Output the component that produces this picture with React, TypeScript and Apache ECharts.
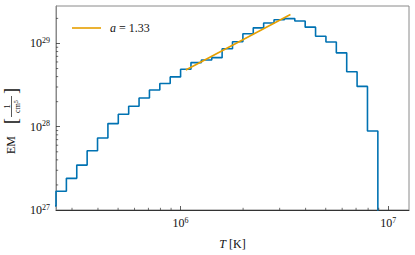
import React, { useEffect, useRef } from 'react';
import * as echarts from 'echarts';

// Bin edges (log10 T) of the EM histogram
const binEdgeExponents = [
  5.35, 5.40, 5.45, 5.50, 5.55, 5.60, 5.65, 5.70, 5.75, 5.80, 5.85,
  5.90, 5.95, 6.00, 6.05, 6.10, 6.15, 6.20, 6.25, 6.30, 6.35, 6.40,
  6.45, 6.50, 6.55, 6.60, 6.65, 6.70, 6.75, 6.80, 6.85, 6.90, 6.95,
];
// EM value starting at each edge (last entry closes the histogram)
const emValues = [
  1.12e27, 1.68e27, 2.40e27, 3.46e27, 5.14e27, 7.33e27, 1.09e28, 1.41e28,
  1.76e28, 2.21e28, 2.76e28, 3.31e28, 3.97e28, 4.90e28, 5.89e28, 6.33e28,
  6.76e28, 8.65e28, 1.05e29, 1.31e29, 1.54e29, 1.76e29, 1.93e29, 1.99e29,
  1.86e29, 1.57e29, 1.22e29, 1.04e29, 7.71e28, 4.58e28, 3.05e28, 8.89e27,
  1.0e26,
];
// Power-law fit a = 1.33
const fitT = [1.06e6, 3.38e6];
const fitEM = [4.81e28, 2.23e29];

const xMinorTicks = [3e5, 4e5, 5e5, 6e5, 7e5, 8e5, 9e5, 2e6, 3e6, 4e6, 5e6, 6e6, 7e6, 8e6, 9e6];
const yMinorTicks = [2e27, 3e27, 4e27, 5e27, 6e27, 7e27, 8e27, 9e27, 2e28, 3e28, 4e28, 5e28, 6e28, 7e28, 8e28, 9e28, 2e29];

const X_MIN = Math.pow(10, 5.4);
const X_MAX = Math.pow(10, 7.1);
const Y_MIN = 1e27;
const Y_MAX = Math.pow(10, 29.45);

const FONT = 'Liberation Serif';
const INK = '#111111';

const powLabel = (v: number) => `{b|10}{s|${Math.round(Math.log10(v))}}`;
const powRich = {
  b: { fontSize: 12, fontFamily: FONT, color: INK, lineHeight: 14 },
  s: { fontSize: 8, fontFamily: FONT, color: INK, verticalAlign: 'top', lineHeight: 9 },
};

export default function App() {
  const ref = useRef<HTMLDivElement>(null);
  useEffect(() => {
    if (!ref.current) return;
    const chart = echarts.init(ref.current, undefined, { renderer: 'svg' });
    const histData = binEdgeExponents.map((e, i) => [Math.pow(10, e), emValues[i]]);
    const fitData = fitT.map((t, i) => [t, fitEM[i]]);
    chart.setOption({
      animation: false,
      textStyle: { fontFamily: FONT, color: INK },
      grid: { left: 56, right: 6, top: 6, bottom: 43, show: true, borderColor: '#8a8a8a', borderWidth: 1 },
      legend: {
        data: [{ name: 'fit', icon: 'rect' }],
        left: 67,
        top: 17,
        itemWidth: 29,
        itemHeight: 1.6,
        formatter: () => '{sp|}{i|a} = 1.33',
        textStyle: {
          fontFamily: FONT, fontSize: 12, color: INK,
          rich: {
            sp: { width: 4 },
            i: { fontStyle: 'italic', fontFamily: FONT, fontSize: 12, color: INK },
          },
        },
      },
      xAxis: {
        type: 'log',
        min: X_MIN,
        max: X_MAX,
        logBase: 10,
        splitLine: { show: false },
        axisLine: { show: true, lineStyle: { color: '#333', width: 1 } },
        axisTick: { show: true, inside: true, length: 4, lineStyle: { color: '#333', width: 0.8 } },
        minorTick: { show: false },
        axisLabel: {
          showMinLabel: false, showMaxLabel: false, margin: 6,
          fontFamily: FONT,
          formatter: powLabel, rich: powRich,
        },
        name: '{i|T} [K]',
        nameLocation: 'middle',
        nameGap: 28,
        nameTextStyle: {
          fontFamily: FONT, fontSize: 12, color: INK,
          rich: { i: { fontStyle: 'italic', fontFamily: FONT, fontSize: 12, color: INK } },
        },
      },
      yAxis: {
        type: 'log',
        min: Y_MIN,
        max: Y_MAX,
        logBase: 10,
        splitLine: { show: false },
        axisLine: { show: true, lineStyle: { color: '#8a8a8a', width: 1 } },
        axisTick: { show: true, inside: true, length: 4, lineStyle: { color: '#333', width: 0.8 } },
        minorTick: { show: false },
        axisLabel: {
          showMinLabel: true, showMaxLabel: false, margin: 6,
          fontFamily: FONT,
          formatter: powLabel, rich: powRich,
        },
      },
      graphic: [
        {
          type: 'group',
          x: 11,
          y: 154,
          rotation: Math.PI / 2,
          children: [
            { type: 'text', x: 0, y: 0, style: { text: 'EM', fontSize: 12, fontFamily: FONT, fill: INK, align: 'left', verticalAlign: 'middle' } },
            { type: 'text', x: 30, y: 0, style: { text: '[', fontSize: 18, fontFamily: FONT, fill: INK, align: 'left', verticalAlign: 'middle' } },
            { type: 'line', shape: { x1: 37, y1: 0.5, x2: 58, y2: 0.5 }, style: { stroke: INK, lineWidth: 0.7 } },
            { type: 'text', x: 47.5, y: -4.5, style: { text: '1', fontSize: 9, fontFamily: FONT, fill: INK, align: 'center', verticalAlign: 'middle' } },
            {
              type: 'text', x: 47.5, y: 6,
              style: {
                text: '{c|cm}{s|5}', fontSize: 8, fontFamily: FONT, fill: INK, align: 'center', verticalAlign: 'middle',
                rich: { c: { fontSize: 8, fontFamily: FONT, fill: INK }, s: { fontSize: 6, fontFamily: FONT, fill: INK, verticalAlign: 'top', lineHeight: 6 } },
              },
            },
            { type: 'text', x: 60, y: 0, style: { text: ']', fontSize: 18, fontFamily: FONT, fill: INK, align: 'left', verticalAlign: 'middle' } },
          ],
        },
      ],
      series: [
        {
          name: 'hist',
          type: 'line',
          step: 'end',
          data: histData,
          showSymbol: false,
          symbol: 'none',
          lineStyle: { color: '#0072B2', width: 1.6 },
          itemStyle: { color: '#0072B2' },
          clip: true,
          silent: true,
          z: 3,
        },
        {
          name: 'fit',
          type: 'line',
          data: fitData,
          showSymbol: false,
          symbol: 'none',
          lineStyle: { color: '#E69F00', width: 1.6 },
          itemStyle: { color: '#E69F00' },
          silent: true,
          z: 4,
        },
        {
          name: 'xminor',
          type: 'custom',
          data: xMinorTicks.map((v) => [v, Y_MIN]),
          silent: true,
          clip: false,
          z: 5,
          renderItem: (params: any, api: any) => {
            const p = api.coord([api.value(0), api.value(1)]);
            return {
              type: 'line',
              shape: { x1: p[0], y1: p[1], x2: p[0], y2: p[1] - 2.2 },
              style: { stroke: '#333', lineWidth: 0.7 },
            };
          },
        },
        {
          name: 'yminor',
          type: 'custom',
          data: yMinorTicks.map((v) => [X_MIN, v]),
          silent: true,
          clip: false,
          z: 5,
          renderItem: (params: any, api: any) => {
            const p = api.coord([api.value(0), api.value(1)]);
            return {
              type: 'line',
              shape: { x1: p[0], y1: p[1], x2: p[0] + 2.2, y2: p[1] },
              style: { stroke: '#333', lineWidth: 0.7 },
            };
          },
        },
      ],
    });
    return () => chart.dispose();
  }, []);
  return <div ref={ref} style={{ width: 415, height: 255, position: 'absolute', left: 0, top: 0, background: '#fff' }} />;
}
